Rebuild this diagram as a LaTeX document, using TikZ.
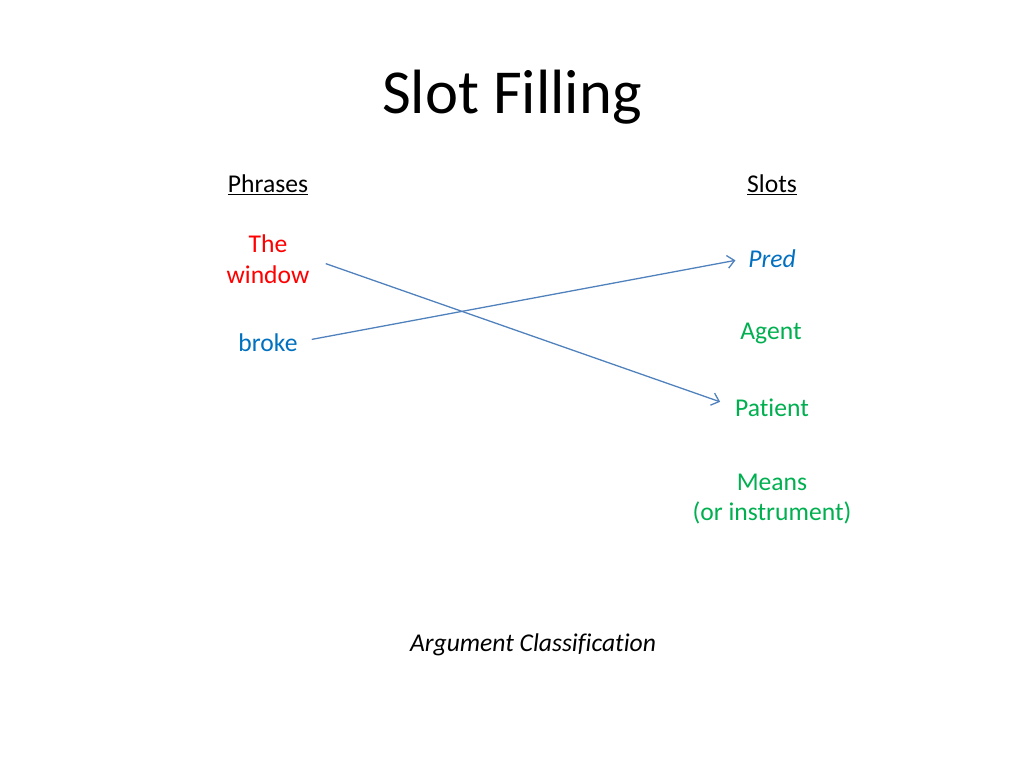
\documentclass[tikz,border=0pt]{standalone}
\usepackage{fontspec}
\setmainfont{Carlito}[RawFeature={-liga;-clig;-calt;-dlig}]
\usetikzlibrary{arrows.meta}
\definecolor{cred}{HTML}{FF0000}
\definecolor{cblue}{HTML}{0070C0}
\definecolor{cgreen}{HTML}{00B050}
\definecolor{carrow}{HTML}{4F81BD}
\newcommand{\nolig}{\kern0pt}
\begin{document}
\begin{tikzpicture}[x=0.703125pt,y=-0.703125pt,
  txt/.style={inner sep=0pt,align=center,font=\fontsize{18}{21.6}\selectfont},
  arr/.style={draw=carrow,line width=0.9pt,-{Straight Barb[length=5pt,width=9pt,line width=0.9pt]}}]
\fill[white] (0,0) rectangle (1024,768);
\useasboundingbox (0,0) rectangle (1024,768);
\node[inner sep=0pt,font=\fontsize{44}{52}\selectfont] (title) at (512,97) {Slot Filling};
\node[txt] (phr) at (268,185) {\underline{Phrases}};
\node[txt] (slots) at (772,185) {\underline{Slots}};
\node[txt,text=cred] (tw) at (268,259) {The\\window};
\node[txt,text=cblue] (broke) at (268,343) {broke};
\node[txt,text=cblue,font=\fontsize{18}{21.6}\selectfont\itshape] (pred) at (772,259) {Pred};
\node[txt,text=cgreen] (agent) at (771,333) {Agent};
\node[txt,text=cgreen] (patient) at (772,408) {Pat\nolig ient};
\node[txt,text=cgreen] (means) at (772,499) {Means\\(or instrument)};
\node[txt,font=\fontsize{18}{21.6}\selectfont\itshape] (ac) at (533,645) {Argument Classif\nolig icat\nolig ion};
\draw[arr,shorten <=12pt,shorten >=11pt] ([yshift=0.7pt]tw.east) -- ([yshift=0.7pt]patient.west);
\draw[arr,shorten <=10pt,shorten >=9pt] ([yshift=0.7pt]broke.east) -- ([yshift=0.7pt]pred.west);
\end{tikzpicture}
\end{document}
